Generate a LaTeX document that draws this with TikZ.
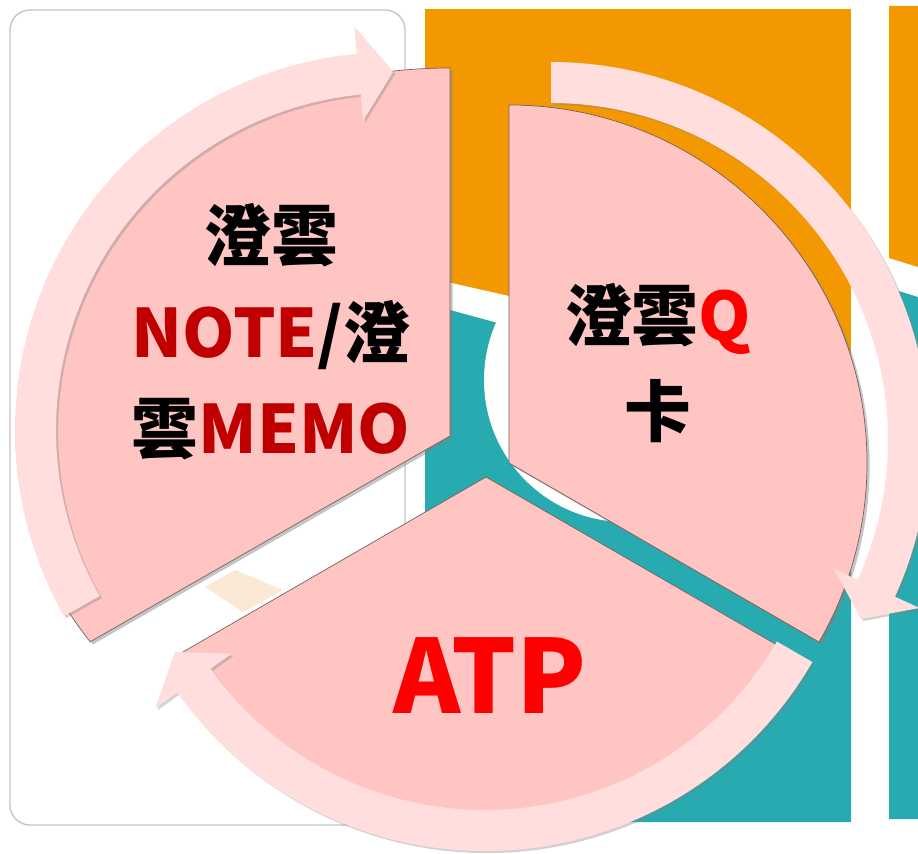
\documentclass[tikz,border=0pt]{standalone}
\usepackage{fontspec}
\newfontfamily\cjk{Noto Sans CJK TC}
\usetikzlibrary{shadows}

\definecolor{bgorange}{RGB}{243,152,0}
\definecolor{bgteal}{RGB}{40,170,177}
\definecolor{piepink}{RGB}{255,197,194}
\definecolor{bandpink}{RGB}{255,222,221}
\definecolor{edgegray}{RGB}{120,95,95}
\definecolor{notered}{RGB}{192,0,0}
\definecolor{qred}{RGB}{255,0,0}
\definecolor{fadedbeige}{RGB}{251,233,214}

\tikzset{
  sector/.style={fill=piepink, draw=edgegray, line width=0.4pt,
    drop shadow={shadow xshift=1.5pt, shadow yshift=-1.5pt, opacity=0.45}},
  arrowband/.style={fill=bandpink,
    drop shadow={shadow xshift=1.2pt, shadow yshift=-1.2pt, opacity=0.35}},
  cyclelabel/.style={font=\cjk\bfseries\fontsize{38}{55}\selectfont, align=center}
}

\begin{document}
\begin{tikzpicture}[x=0.02cm, y=0.02cm]

    % Dimensions
    \def\rIn{337}        % inner edge of the arrow bands
    \def\rMid{358}       % radius of the pie and of the arrow centre lines
    \def\rOut{378}       % outer edge of the arrow bands
    \def\rHeadIn{311}    % arrow head, inner barb
    \def\rHeadOut{405}   % arrow head, outer barb
    \def\headAng{5.5}    % angular length of the arrow heads

    \useasboundingbox (0,0) rectangle (918,853);
    \fill[white] (0,0) rectangle (918,853);

    % Draw the background panels
    \draw[gray!45, line width=0.8pt, rounded corners=0.4cm] (10,28) rectangle (405,843);
    \fill[bgorange] (425,31) rectangle (851,844);
    \fill[bgteal] (425,31) -- (425,550) -- (509,527) -- (851,433) -- (851,31) -- cycle;
    \fill[white] (425,576) -- (509,557) -- (509,527) -- (425,550) -- cycle;
    \fill[white] (626,473) circle[radius=142];
    \fill[bgorange] (889,847) -- (918,847) -- (918,586) -- (889,595) -- cycle;
    \fill[bgteal] (889,565) -- (918,556) -- (918,34) -- (889,34) -- cycle;
    \fill[fadedbeige] (205,266) -- (235,283) -- (283,263) -- (243,241) -- cycle;

    % Draw the three pie sectors
    \path[sector] (450,417) -- (450,785) arc[start angle=90, end angle=214, x radius=434, y radius=368] -- cycle;
    \path[sector] (509,390) -- (509,748) arc[start angle=90, end angle=-30, radius=\rMid] -- cycle;
    \path[sector] (486,376) -- ++(210:\rMid) arc[start angle=210, end angle=330, radius=\rMid] -- cycle;

    % Draw the circular arrows (centre x / centre y / start angle / tip angle)
    \foreach \cx/\cy/\sa/\ta in {393/423/209.5/90, 551/413/90/-30, 485/380/-30/-150} {
        \path[arrowband, shift={(\cx,\cy)}] (\sa:\rOut)
            arc[start angle=\sa, end angle=\ta+\headAng, radius=\rOut]
            -- ({\ta+\headAng}:\rHeadOut) -- (\ta:\rMid) -- ({\ta+\headAng}:\rHeadIn)
            -- ({\ta+\headAng}:\rIn)
            arc[start angle=\ta+\headAng, end angle=\sa, radius=\rIn] -- cycle;
    }

    % Labels of the sectors
    \node[cyclelabel] (note) at (271,521) {澄雲\\\textcolor{notered}{NOTE}/澄\\雲\textcolor{notered}{MEMO}};
    \node[cyclelabel] (qcard) at (658,490) {澄雲\textcolor{qred}{Q}\\卡};
    \node[cyclelabel, text=qred, font=\cjk\bfseries\fontsize{58}{70}\selectfont] (atp) at (490,177) {ATP};

\end{tikzpicture}
\end{document}
